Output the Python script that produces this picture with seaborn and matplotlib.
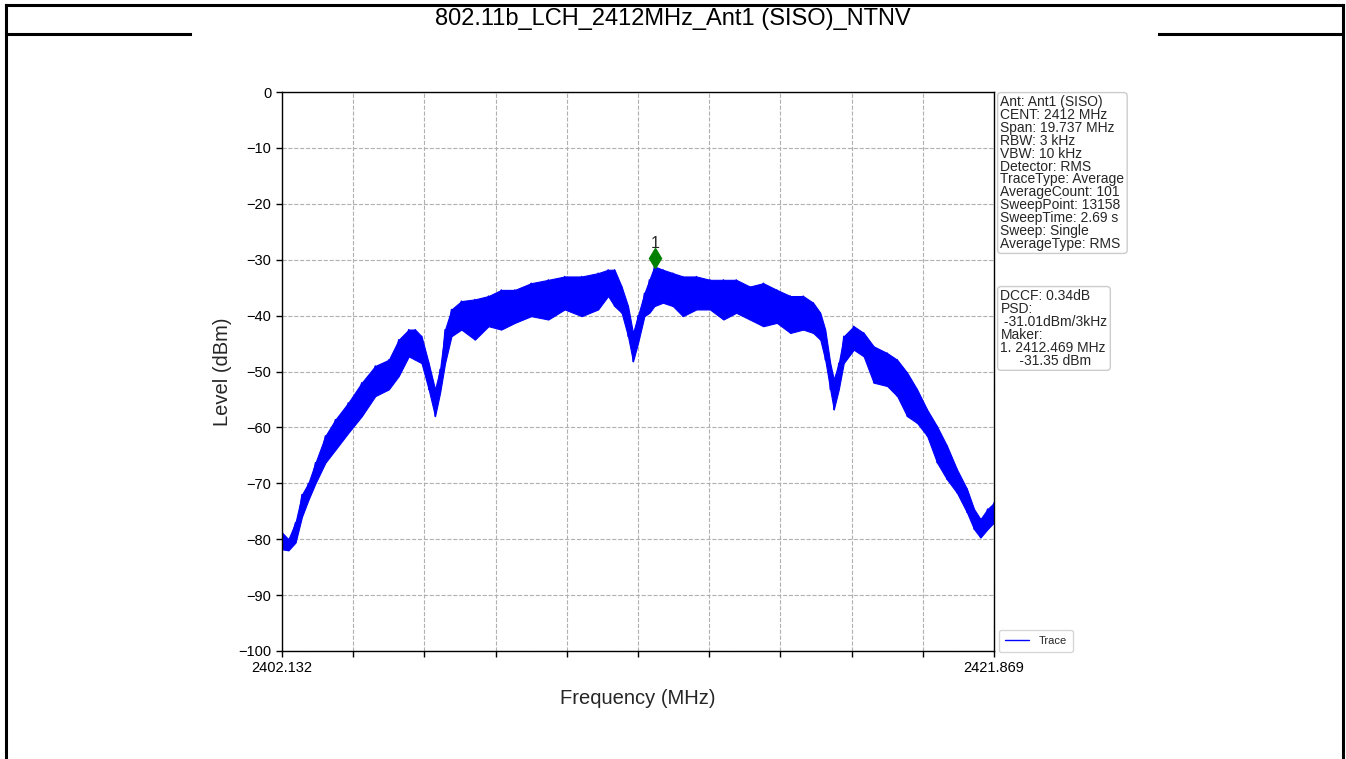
import numpy as np
import pandas as pd
import matplotlib
matplotlib.use("Agg")
import matplotlib.pyplot as plt
from matplotlib.lines import Line2D
import seaborn as sns

# ---------------- data ----------------
title = "802.11b_LCH_2412MHz_Ant1 (SISO)_NTNV"
f_start, f_stop = 2402.132, 2421.869

freq_mhz = [2402.132, 2402.310, 2402.507, 2402.685, 2402.862, 2403.060, 2403.336, 2403.612,
            2403.968, 2404.343, 2404.718, 2405.093, 2405.369, 2405.645, 2405.823, 2406.000,
            2406.198, 2406.375, 2406.514, 2406.652, 2406.829, 2407.105, 2407.480, 2407.856,
            2408.211, 2408.586, 2409.040, 2409.514, 2409.968, 2410.441, 2410.895, 2411.172,
            2411.349, 2411.546, 2411.724, 2411.862, 2412.001, 2412.178, 2412.316, 2412.454,
            2412.691, 2412.967, 2413.244, 2413.619, 2413.994, 2414.369, 2414.724, 2415.099,
            2415.474, 2415.849, 2416.224, 2416.579, 2416.856, 2417.053, 2417.191, 2417.329,
            2417.428, 2417.566, 2417.704, 2417.981, 2418.257, 2418.533, 2418.908, 2419.185,
            2419.461, 2419.737, 2420.014, 2420.290, 2420.566, 2420.842, 2421.119, 2421.316,
            2421.494, 2421.691, 2421.869]
level_hi = [-78.8, -80.0, -77.0, -72.0, -70.0, -66.3, -61.5, -58.6,
            -55.6, -52.0, -49.0, -47.9, -44.3, -42.5, -42.5, -43.7,
            -48.5, -53.2, -49.6, -42.5, -38.9, -37.4, -37.1, -36.5,
            -35.4, -35.4, -34.2, -33.6, -33.0, -33.0, -32.4, -31.8,
            -31.8, -34.8, -38.3, -43.1, -40.0, -36.0, -33.6, -31.2,
            -31.8, -32.4, -33.0, -33.0, -33.6, -33.6, -33.6, -34.8,
            -34.2, -35.4, -36.5, -36.5, -37.7, -39.5, -42.5, -48.5,
            -51.4, -48.5, -43.7, -41.9, -43.1, -45.5, -46.7, -47.9,
            -50.2, -53.2, -56.8, -59.8, -63.3, -67.5, -71.0, -74.6,
            -76.4, -74.6, -73.5]
level_lo = [-81.8, -82.0, -80.6, -76.0, -73.0, -70.0, -66.3, -64.0,
            -61.0, -58.0, -54.4, -53.2, -50.8, -47.3, -47.9, -48.5,
            -53.2, -58.0, -53.8, -48.5, -43.7, -42.5, -44.3, -41.9,
            -42.5, -41.3, -40.1, -40.7, -38.9, -40.1, -38.9, -36.5,
            -38.3, -39.5, -43.7, -48.2, -44.9, -40.1, -39.5, -38.3,
            -37.7, -38.3, -40.1, -38.9, -38.9, -40.7, -39.5, -40.7,
            -41.9, -41.3, -43.1, -42.5, -43.1, -44.3, -47.9, -53.2,
            -56.8, -53.2, -48.5, -46.1, -47.3, -52.0, -52.6, -54.4,
            -58.0, -59.2, -61.5, -66.3, -69.3, -71.7, -75.2, -78.2,
            -79.7, -78.2, -77.0]

marker_freq = 2412.469
marker_level = -29.7
marker_label = "1"

info_lines = ["Ant: Ant1 (SISO)", "CENT: 2412 MHz", "Span: 19.737 MHz", "RBW: 3 kHz",
              "VBW: 10 kHz", "Detector: RMS", "TraceType: Average", "AverageCount: 101",
              "SweepPoint: 13158", "SweepTime: 2.69 s", "Sweep: Single", "AverageType: RMS"]
result_lines = ["DCCF: 0.34dB", "PSD:", " -31.01dBm/3kHz", "Maker:", "1. 2412.469 MHz",
                "     -31.35 dBm"]

y_ticks = [0, -10, -20, -30, -40, -50, -60, -70, -80, -90, -100]
x_tick_labels = ["2402.132", "", "", "", "", "", "", "", "", "", "2421.869"]

# ---------------- build the trace table ----------------
trace = pd.DataFrame({
    "Frequency": np.repeat(freq_mhz, 2),
    "Level": np.column_stack([level_hi, level_lo]).ravel(),
})

sns.set_style("ticks")
plt.rcParams["font.family"] = ["Liberation Sans", "DejaVu Sans"]
plt.rcParams["axes.unicode_minus"] = True

W, H = 1346, 759
fig = plt.figure(figsize=(W / 100, H / 100), dpi=100)
fig.patch.set_facecolor("white")

def fx(px):
    return px / W

def fy(py):
    return 1 - py / H

# page frame (table cell look)
frame_kw = dict(color="black", linewidth=2.2, transform=fig.transFigure, solid_capstyle="projecting")
fig.add_artist(Line2D([fx(6), fx(1342.5)], [fy(4.5), fy(4.5)], **frame_kw))
fig.add_artist(Line2D([fx(6), fx(6)], [fy(4.5), fy(760)], **frame_kw))
fig.add_artist(Line2D([fx(1342.5), fx(1342.5)], [fy(4.5), fy(760)], **frame_kw))
fig.add_artist(Line2D([fx(6), fx(190)], [fy(33.5), fy(33.5)], **frame_kw))
fig.add_artist(Line2D([fx(1159), fx(1342.5)], [fy(33.5), fy(33.5)], **frame_kw))
fig.text(fx(673), fy(19.5), title, ha="center", va="center", fontsize=17, color="black")

ax = fig.add_axes([fx(282), fy(651), fx(994) - fx(282), (651 - 92) / H])

# dense trace body (between the read extremes) + the trace line itself
ax.fill_between(freq_mhz, level_lo, level_hi, color="#0000ff", linewidth=0.8, zorder=2)
sns.lineplot(data=trace, x="Frequency", y="Level", ax=ax, color="#0000ff", linewidth=1.0,
             estimator=None, sort=False, label="Trace", zorder=3)

ax.plot([marker_freq], [marker_level], marker="d", color="green", markersize=10,
        linestyle="none", zorder=5)
ax.text(marker_freq, marker_level + 1.2, marker_label, ha="center", va="bottom", fontsize=11.5)

ax.set_xlim(f_start, f_stop)
ax.set_ylim(-100, 0)
ax.set_xticks(np.linspace(f_start, f_stop, len(x_tick_labels)))
ax.set_xticklabels(x_tick_labels)
ax.set_yticks(y_ticks)
ax.tick_params(axis="both", labelsize=10.5, direction="out", length=4, width=1, colors="black")
ax.grid(True, linestyle="--", color="#b0b0b0", linewidth=0.8)
ax.set_axisbelow(True)
ax.set_xlabel("Frequency (MHz)", fontsize=14.5, labelpad=10)
ax.set_ylabel("Level (dBm)", fontsize=14.5, labelpad=5)
for sp in ax.spines.values():
    sp.set_visible(True)
    sp.set_color("black")
    sp.set_linewidth(1.0)
    sp.set_zorder(6)

box_kw = dict(boxstyle="round,pad=0.2,rounding_size=0.25", facecolor="white",
              edgecolor="#cccccc", linewidth=1)
ax.text(1.009, 0.994, "\n".join(info_lines), transform=ax.transAxes, ha="left", va="top",
        fontsize=10, linespacing=0.895, bbox=box_kw)
ax.text(1.009, 0.647, "\n".join(result_lines), transform=ax.transAxes, ha="left", va="top",
        fontsize=10, linespacing=0.895, bbox=box_kw)

leg = ax.legend(loc="lower left", bbox_to_anchor=(0.999, -0.012), fontsize=8, frameon=True,
                handlelength=2.2, borderpad=0.55, fancybox=True)
leg.get_frame().set_edgecolor("#cccccc")

fig.savefig("out.png", dpi=100)
